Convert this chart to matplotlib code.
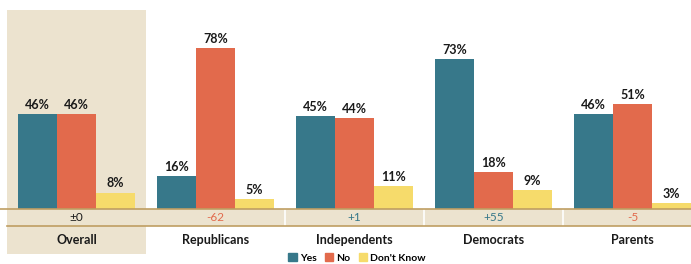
import matplotlib
matplotlib.use('Agg')
from matplotlib import pyplot as plt
from matplotlib.patches import Rectangle
import numpy as np

# data
groups = ['Overall', 'Republicans', 'Independents', 'Democrats', 'Parents']
yes = [46, 16, 45, 73, 46]
no = [46, 78, 44, 18, 51]
dont_know = [8, 5, 11, 9, 3]
diffs = ['±0', '-62', '+1', '+55', '-5']
series_names = ['Yes', 'No', "Don't Know"]

TEAL = '#37788A'
ORANGE = '#E26A4C'
YELLOW = '#F6DB6B'
BEIGE = '#ECE3CF'
LINE = '#BF9E62'

plt.rcParams['font.family'] = ['Lato', 'DejaVu Sans']

fig = plt.figure(figsize=(6.91, 2.64), dpi=100)
ax = fig.add_axes([0, 0, 1, 1])
# 139 px per group, 2.06 px per percent point, baseline 55 px from bottom
ax.set_xlim(-76.5 / 139, (691 - 76.5) / 139)
ax.set_ylim(-55 / 2.06, (264 - 55) / 2.06)
ax.axis('off')

x = np.arange(len(groups))
w = 0.28

# beige background for Overall
ax.add_patch(Rectangle((-0.5, -21.8), 1, 96.6 + 21.8, color=BEIGE, zorder=0, lw=0))
# diff row
row_top, row_bot = 0, -8.25
ax.add_patch(Rectangle((0.5, row_bot), 5, row_top - row_bot, color=BEIGE, zorder=0, lw=0))
for b in [1.5, 2.5, 3.5]:
    ax.plot([b, b], [row_bot, row_top], color='white', lw=1.2, zorder=1)
ax.plot([-0.6, 4.6], [row_top, row_top], color=LINE, lw=1.2, zorder=3)
ax.plot([-0.5, 4.6], [row_bot, row_bot], color=LINE, lw=1.2, zorder=3)

for vals, off, col in zip([yes, no, dont_know], [-w, 0, w], [TEAL, ORANGE, YELLOW]):
    ax.bar(x + off, vals, width=w, color=col, zorder=2)
    for xi, v in zip(x, vals):
        ax.text(xi + off, v + 1.5, f'{v}%', ha='center', va='bottom',
                fontsize=9, fontweight='bold', color='#1a1a1a', zorder=4)

for xi, d in zip(x, diffs):
    if d.startswith('-'):
        c = ORANGE
    elif d.startswith('+'):
        c = TEAL
    else:
        c = '#1a1a1a'
    ax.text(xi, -4.1, d, ha='center', va='center', fontsize=8.5, color=c)
    ax.text(xi, -15.2, groups[xi], ha='center', va='center',
            fontsize=9, fontweight='bold', color='#1a1a1a')

handles = [Rectangle((0, 0), 1, 1, color=c) for c in [TEAL, ORANGE, YELLOW]]
fig.legend(handles, series_names, loc='center', bbox_to_anchor=(357 / 691, 6 / 264),
           ncol=3, frameon=False, handlelength=0.8, handleheight=0.8,
           handletextpad=0.3, columnspacing=0.8,
           prop={'weight': 'bold', 'size': 7.5})

fig.savefig('out.png', dpi=100)
